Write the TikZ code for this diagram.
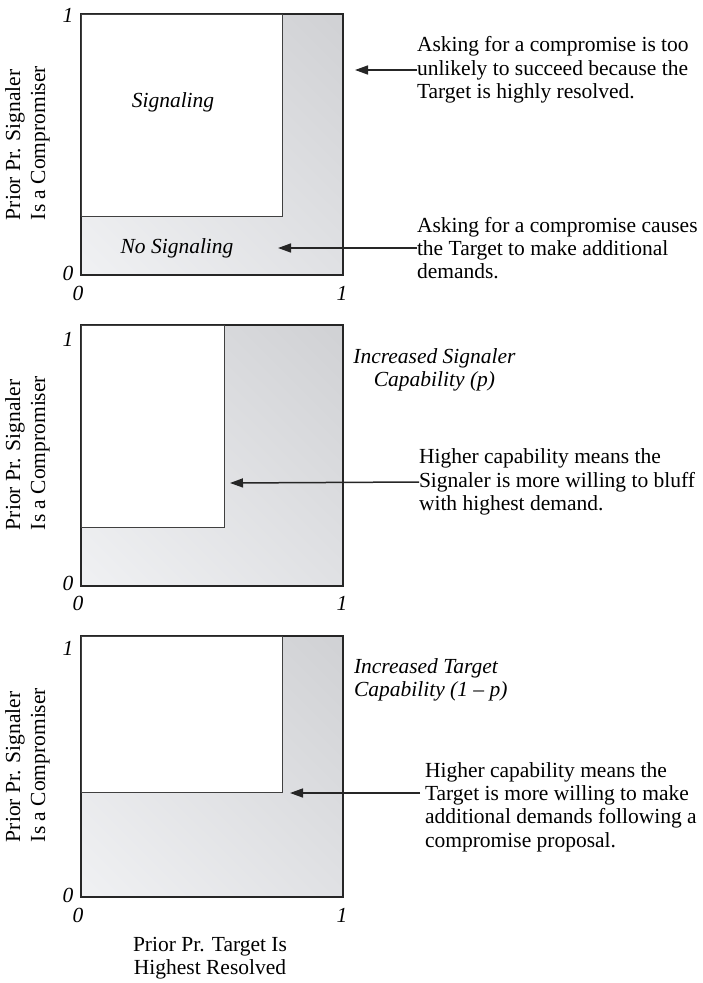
\documentclass[tikz,border=0pt]{standalone}
\usepackage{fontspec}
\setmainfont{Liberation Serif}
\usetikzlibrary{arrows.meta,shadings}
\definecolor{gLL}{RGB}{240,241,243}
\definecolor{gUR}{RGB}{208,209,212}
\definecolor{gMid}{RGB}{224,225,228}
\begin{document}
\begin{tikzpicture}[x=1pt,y=-1pt,
  every node/.style={inner sep=0pt, outer sep=0pt, font=\fontsize{21.5}{23.3}\selectfont},
  lab/.style={font=\fontsize{21.5}{23.3}\selectfont\itshape},
  note/.style={align=left, anchor=west},
  frame/.style={draw=black!85, line width=1.3pt},
  axisline/.style={draw=black!85, line width=2.4pt},
  innerbox/.style={fill=white, draw=black!75, line width=0.9pt},
  ptr/.style={draw=black!85, line width=1.5pt, -{Triangle[length=13pt,width=9pt]}},
  region/.style={lower left=gLL, upper right=gUR, lower right=gMid, upper left=gMid},
  ylab/.style={rotate=90, align=left, anchor=west, font=\fontsize{21.5}{25}\selectfont},
]
\useasboundingbox (0,0) rectangle (703,983);

% ---------- Panel 1 ----------
\shade[region] (81,275) rectangle (343,14);
\draw[frame] (81,14) rectangle (343,275);
\draw[innerbox] (81,14) rectangle (282,216);
\draw[axisline] (81,275) -- (343,275);
\node[lab] (p1top) at (68,15) {1};
\node[lab] (p1zl) at (68,273) {0};
\node[lab] (p1zb) at (78,293) {0};
\node[lab] (p1ob) at (342,293) {1};
\node[ylab] (p1y) at (27.5,220) {Prior Pr. Signaler\\Is a Compromiser};
\node[lab] (sig) at (173,102) {Signaling};
\node[lab] (nosig) at (177,248) {No Signaling};
\coordinate (t1a) at (355,70);
\coordinate (t1b) at (278,248);
\node[note] (n1a) at (417,70) {Asking for a compromise is too\\unlikely to succeed because the\\Target is highly resolved.};
\node[note] (n1b) at (417,248) {Asking for a compromise causes\\the Target to make additional\\demands.};
\draw[ptr] (n1a.west) -- (t1a);
\draw[ptr] (n1b.west) -- (t1b);

% ---------- Panel 2 ----------
\shade[region] (81,586) rectangle (343,325);
\draw[frame] (81,325) rectangle (343,586);
\draw[innerbox] (81,325) rectangle (224,527);
\draw[axisline] (81,586) -- (343,586);
\node[lab] (p2top) at (68,339) {1};
\node[lab] (p2zl) at (68,583) {0};
\node[lab] (p2zb) at (78,603) {0};
\node[lab] (p2ob) at (342,603) {1};
\node[ylab] (p2y) at (27.5,530) {Prior Pr. Signaler\\Is a Compromiser};
\node[lab, align=center] (ttl2) at (434.5,370) {Increased Signaler\\Capability (p)};
\coordinate (t2) at (230,483);
\node[note] (n2) at (419,482) {Higher capability means the\\Signaler is more willing to bluff\\with highest demand.};
\draw[ptr] (n2.west) -- (t2);

% ---------- Panel 3 ----------
\shade[region] (81,897) rectangle (343,636);
\draw[frame] (81,636) rectangle (343,897);
\draw[innerbox] (81,636) rectangle (282,792);
\draw[axisline] (81,897) -- (343,897);
\node[lab] (p3top) at (68,648) {1};
\node[lab] (p3zl) at (68,895) {0};
\node[lab] (p3zb) at (78,915) {0};
\node[lab] (p3ob) at (342,915) {1};
\node[ylab] (p3y) at (27.5,842) {Prior Pr. Signaler\\Is a Compromiser};
\node[lab, align=left, anchor=west] (ttl3) at (354,680) {Increased Target\\Capability (1 – p)};
\coordinate (t3) at (290,793);
\node[note] (n3) at (425,807) {Higher capability means the\\Target is more willing to make\\additional demands following a\\compromise proposal.};
\draw[ptr] ([xshift=-5pt]n3.west |- t3) -- (t3);
\node[align=center] (xlab) at (210,958) {Prior Pr. Target Is\\Highest Resolved};
\end{tikzpicture}
\end{document}
